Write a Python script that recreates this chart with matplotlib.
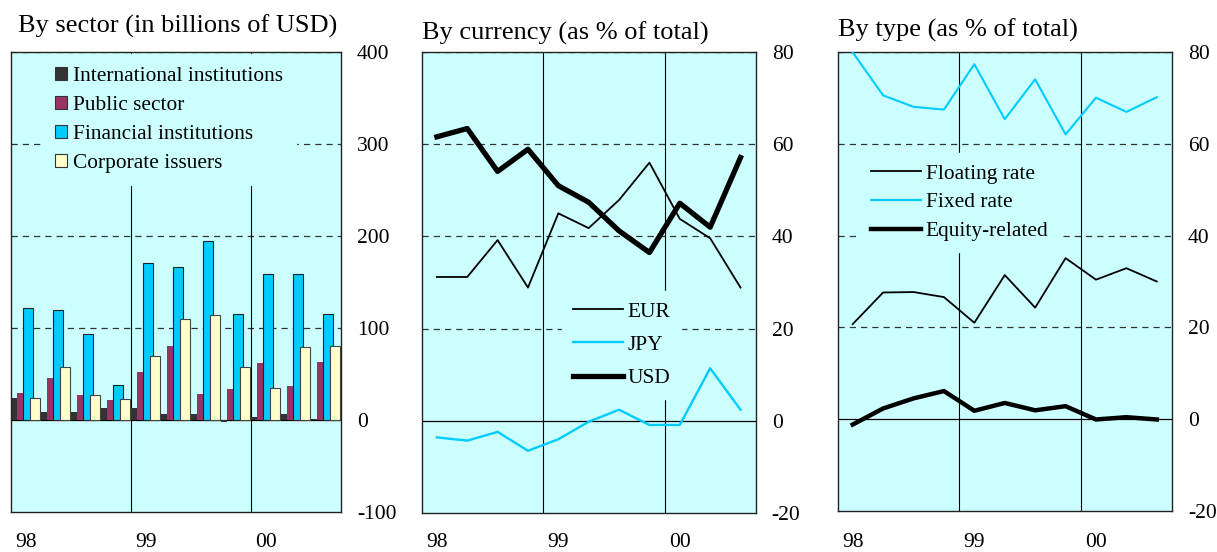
import matplotlib
matplotlib.use("Agg")
import matplotlib.pyplot as plt
import matplotlib.transforms as mtransforms

plt.rcParams['font.family'] = ['Liberation Serif', 'DejaVu Serif']
plt.rcParams['axes.unicode_minus'] = False

W, H = 1217, 552

# quarterly data, 98Q1 .. 00Q3
year_labels = ["98", "99", "00"]

# by sector, billions of USD
intl_inst = [24, 9, 9, 13.5, 13.5, 7, 6, -2, 3.7, 7, 1]
public_sector = [29, 46, 27, 21.6, 52, 80.6, 28, 34, 62, 36.6, 63]
financial_inst = [122, 120, 93, 38, 171, 166, 195, 115, 159, 159, 115]
corporate = [24, 57.5, 27.5, 23, 70, 110, 114, 58, 35, 79, 80]

# by currency, % of total
eur = [31.2, 31.2, 39.2, 28.9, 45.0, 41.8, 47.9, 56.0, 43.8, 39.6, 28.9]
jpy = [-3.6, -4.3, -2.4, -6.5, -4.0, -0.2, 2.4, -0.9, -0.9, 11.4, 2.4]
usd = [61.6, 63.4, 54.1, 58.9, 51.0, 47.4, 41.2, 36.5, 47.2, 42.0, 57.1]

# by type, % of total
floating = [20.7, 27.6, 27.7, 26.6, 21.0, 31.4, 24.3, 35.1, 30.4, 32.9, 30.0]
fixed = [80.0, 70.6, 68.1, 67.5, 77.4, 65.4, 74.1, 62.1, 70.1, 67.0, 70.2]
equity = [-1.2, 2.3, 4.5, 6.1, 1.8, 3.5, 1.9, 2.8, -0.1, 0.4, -0.1]

BG = "#CCFFFF"
CYAN = "#00CCFF"
FS = 15.4
n = len(usd)
xq = list(range(n))
xc = [i + 0.5 for i in xq]

fig = plt.figure(figsize=(W / 100, H / 100), dpi=100)


def px_axes(left, top, right, bottom):
    return fig.add_axes([left / W, 1 - bottom / H, (right - left) / W, (bottom - top) / H])


ax1 = px_axes(11, 52, 341, 512)
ax2 = px_axes(421.7, 52, 755.7, 513)
ax3 = px_axes(837.5, 52.3, 1172, 510.7)


def style_axes(ax, ylim, yticks, grid_vals, bottom_px, height_px):
    ax.set_facecolor(BG)
    ax.set_xlim(0, n)
    ax.set_ylim(*ylim)
    ax.set_yticks(yticks)
    ax.yaxis.tick_right()
    ax.tick_params(axis='y', length=0, pad=11.5, labelsize=15.5)
    ax.set_xticks([])
    trans = mtransforms.blended_transform_factory(ax.transData, ax.transAxes)
    yb = (bottom_px - 547) / height_px
    for x, lab in zip([0.5, 4.5, 8.5], year_labels):
        ax.text(x, yb, lab, transform=trans, ha='center', va='baseline', fontsize=15.5,
                clip_on=False)
    for v in grid_vals:
        ax.axhline(v, color="#333333", lw=0.9, ls=(0, (5, 4)), zorder=1)
    ax.axhline(0, color="black", lw=0.9, zorder=1)
    for x in (4, 8):
        ax.axvline(x, color="black", lw=0.8, zorder=1)
    for s in ax.spines.values():
        s.set_linewidth(1.0)
        s.set_color("#222222")


style_axes(ax1, (-100, 400), [-100, 0, 100, 200, 300, 400], [100, 200, 300, 400], 512, 460)
style_axes(ax2, (-20, 80), [-20, 0, 20, 40, 60, 80], [20, 40, 60, 80], 513, 461)
style_axes(ax3, (-20, 80), [-20, 0, 20, 40, 60, 80], [20, 40, 60, 80], 510.7, 458.4)


def place_legend(ax, x_px, y_px, **kw):
    leg = ax.legend(loc='upper left', bbox_to_anchor=(x_px / W, 1 - y_px / H),
                    bbox_transform=fig.transFigure, borderaxespad=0, frameon=True,
                    facecolor=BG, edgecolor=BG, framealpha=1, fontsize=FS, **kw)
    leg.set_zorder(5)
    leg.get_frame().set_boxstyle("square", pad=0)
    return leg


# sector bars
ax1.bar([i + 0.0 for i in xq], intl_inst, width=0.2, align='edge', color="#333333", zorder=2,
        label="International institutions")
ax1.bar([i + 0.2 for i in xq], public_sector, width=0.2, align='edge', color="#993366", zorder=2,
        label="Public sector")
ax1.bar([i + 0.4 for i in xq], financial_inst, width=0.33, align='edge', color=CYAN,
        edgecolor="#222222", linewidth=0.8, zorder=3, label="Financial institutions")
ax1.bar([i + 0.63 for i in xq], corporate, width=0.34, align='edge', color="#FFFFCC",
        edgecolor="#444444", linewidth=0.8, zorder=4, label="Corporate issuers")
leg1 = place_legend(ax1, 42, 54, handlelength=0.56, handleheight=0.56, handletextpad=0.28,
                    labelspacing=0.46, borderpad=0.6)
for h in leg1.legend_handles:
    h.set_edgecolor("#333333")
    h.set_linewidth(0.8)

# currency lines
ax2.plot(xc, eur, color="black", lw=1.3, zorder=3, label="EUR")
ax2.plot(xc, jpy, color=CYAN, lw=1.7, zorder=3, label="JPY")
ax2.plot(xc, usd, color="black", lw=3.8, zorder=3, label="USD")
place_legend(ax2, 562, 291, handlelength=2.34, handletextpad=0.23, labelspacing=0.62,
             borderpad=0.5)

# type lines
ax3.plot(xc, floating, color="black", lw=1.3, zorder=3, label="Floating rate")
ax3.plot(xc, fixed, color=CYAN, lw=1.5, zorder=3, label="Fixed rate")
ax3.plot(xc, equity, color="black", lw=3.2, zorder=3, label="Equity-related")
place_legend(ax3, 860, 153, handlelength=2.34, handletextpad=0.23, labelspacing=0.41,
             borderpad=0.5)

fig.text(18 / W, 1 - 33 / H, "By sector (in billions of USD)", fontsize=19, va='baseline', ha='left')
fig.text(422 / W, 1 - 40 / H, "By currency (as % of total)", fontsize=19, va='baseline', ha='left')
fig.text(838 / W, 1 - 37 / H, "By type (as % of total)", fontsize=19, va='baseline', ha='left')

fig.savefig("out.png", dpi=100)
